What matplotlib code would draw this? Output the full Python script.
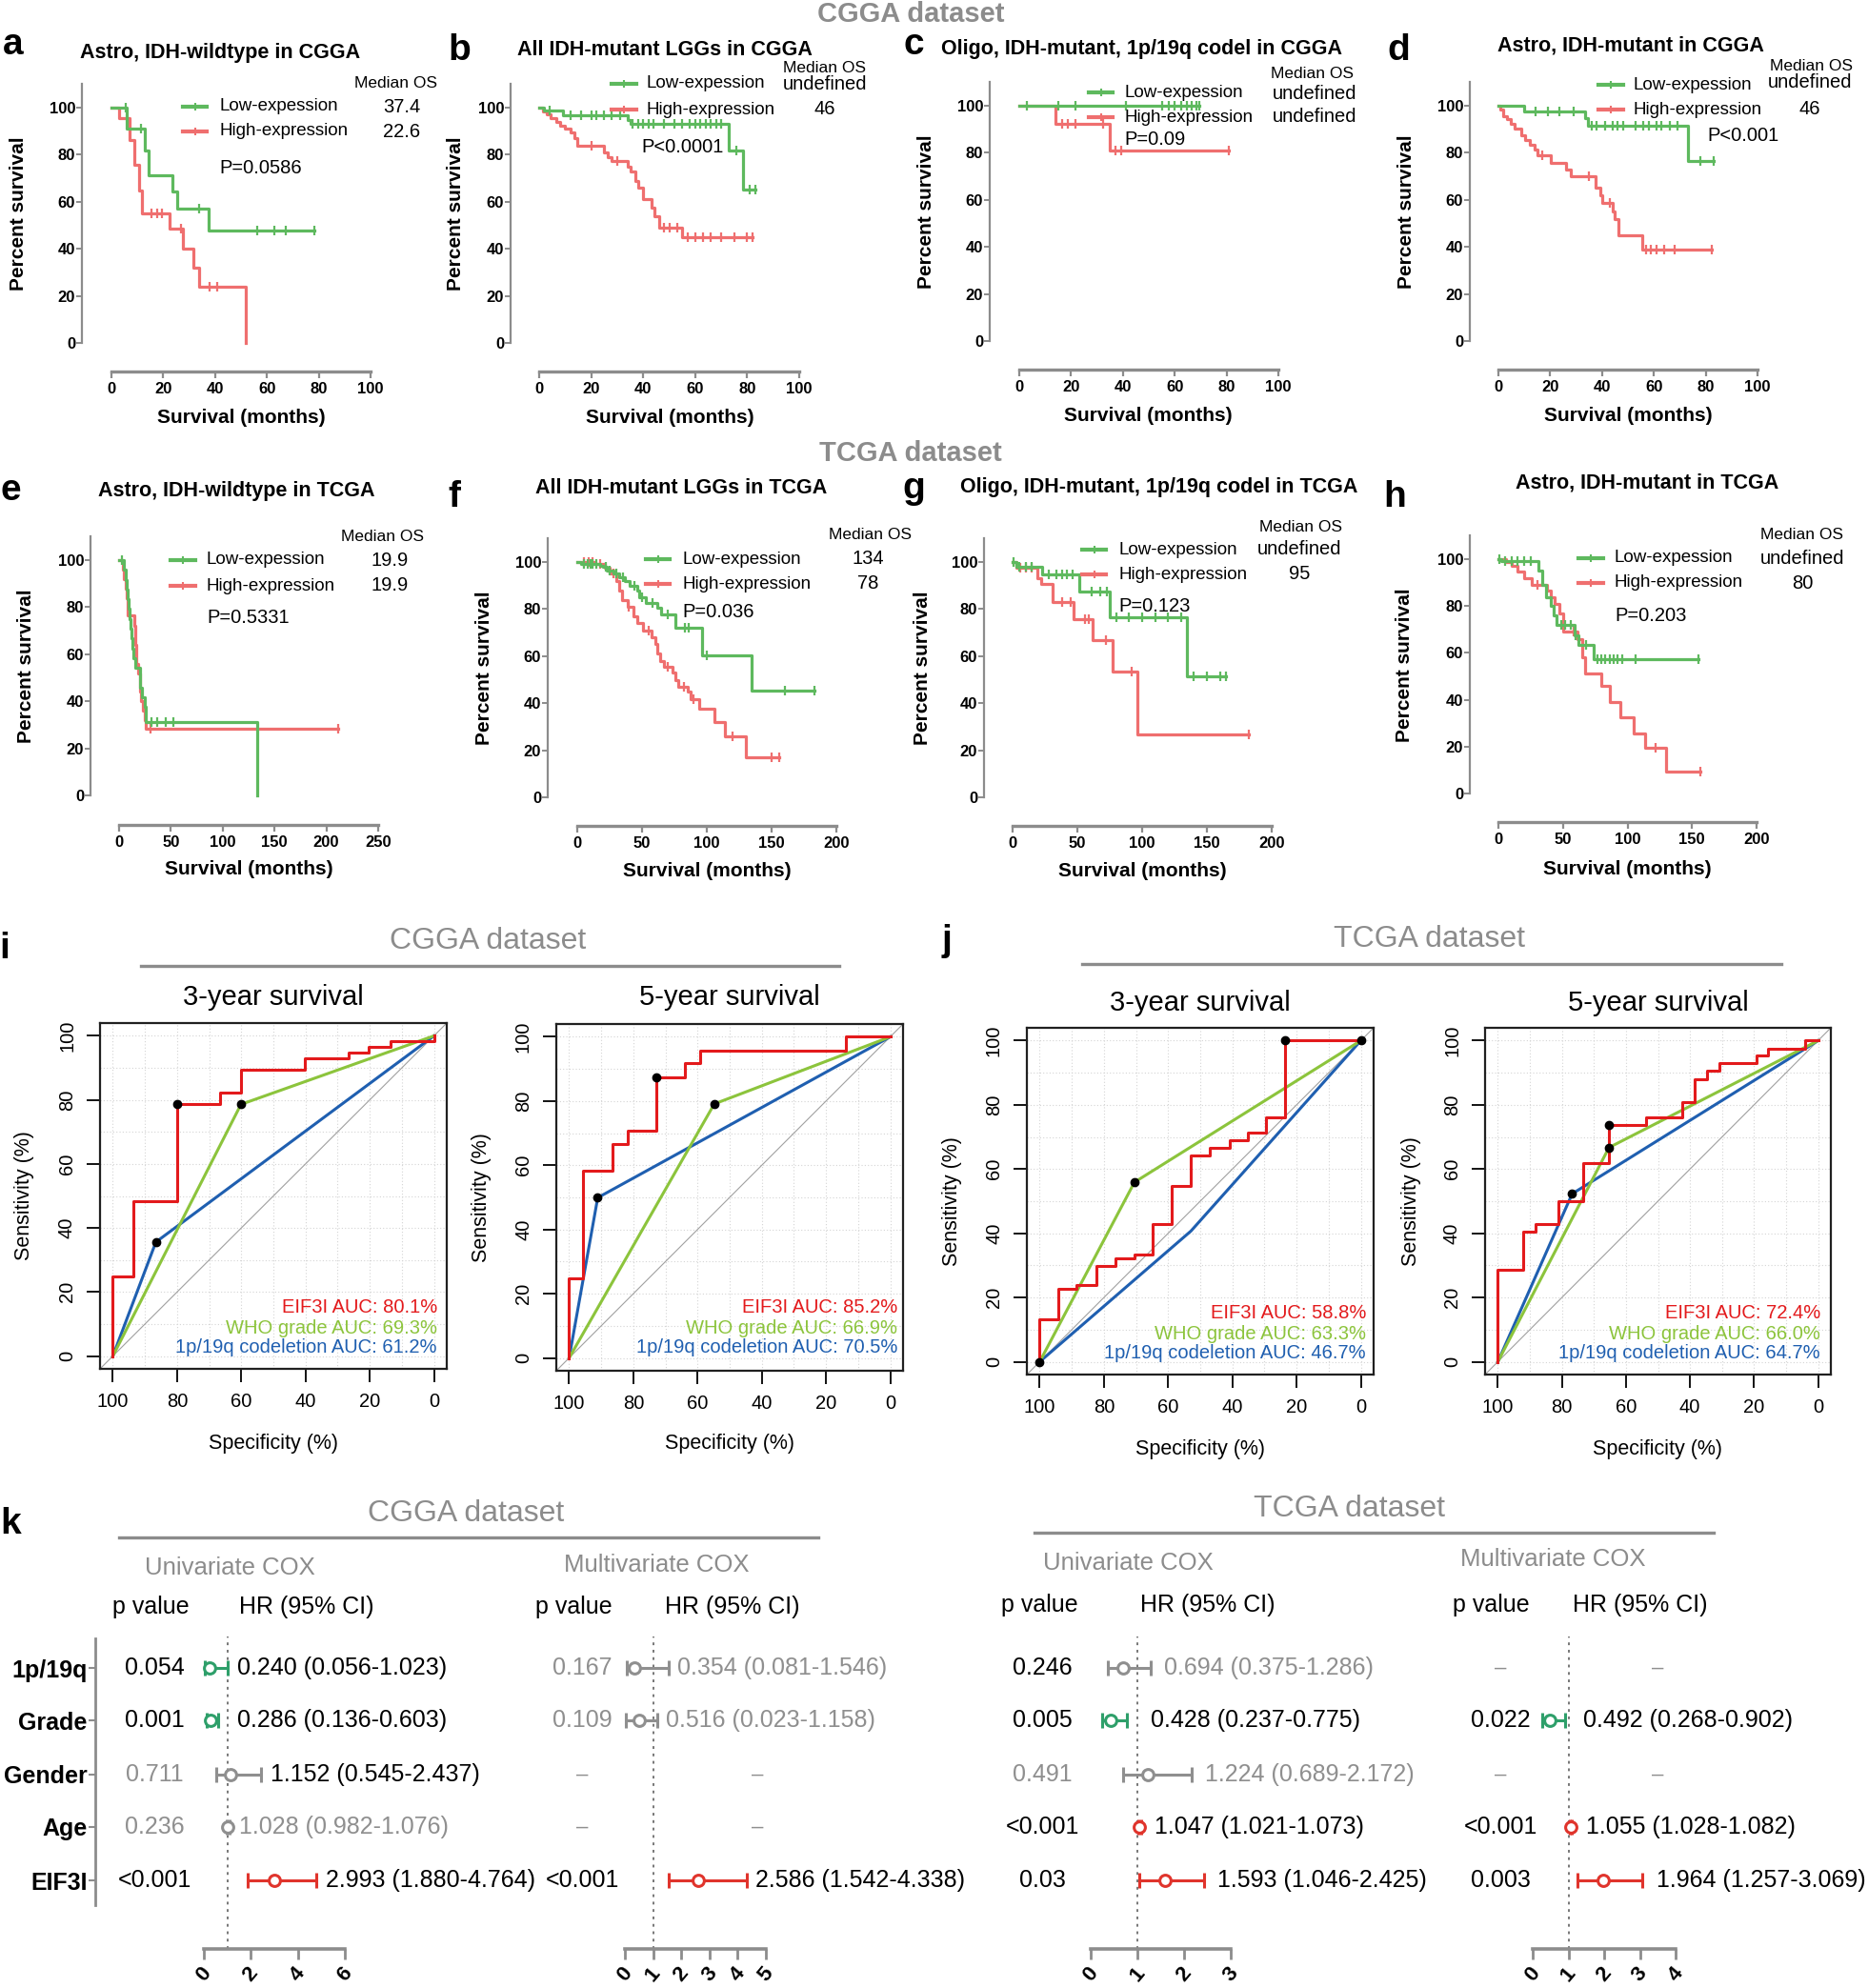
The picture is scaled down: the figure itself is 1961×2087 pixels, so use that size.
import numpy as np
import matplotlib
matplotlib.use('Agg')
import matplotlib.pyplot as plt

plt.rcParams['font.family'] = ['Liberation Sans', 'DejaVu Sans']

W, H = 1961, 2087
PT = 0.72  # points per pixel at dpi 100

# ---------------- Kaplan-Meier data (months, percent) ----------------
a_low_t = [6, 13, 14.5, 23.7, 25.3, 37.5]
a_low_s = [90.9, 81.8, 71.4, 64.3, 57.1, 47.6]
a_low_end = 78.4
a_low_c = [5.5, 11.5, 34, 56.3, 62.8, 67.4, 78.4]
a_high_t = [3, 7, 8.7, 10.6, 11.7, 22.6, 27.6, 31.7, 34, 52]
a_high_s = [95.5, 86.4, 75.7, 64.9, 55.1, 48.4, 40.1, 32, 23.9, 0]
a_high_end = 52
a_high_c = [15.6, 17.5, 19.5, 26.7, 37.9, 40.9]

b_low_t = [2, 9, 34, 35, 73, 78.4]
b_low_s = [98.6, 96.9, 94.6, 93.1, 81.8, 65.1]
b_low_end = 83
b_low_c = [4, 12, 16, 20, 22, 25, 28, 31, 36, 38, 40, 42, 44, 48, 52, 55, 58, 60,
           62, 64, 66, 68, 70, 76, 81, 83]
b_high_t = [1.5, 3, 4.5, 6.5, 8, 10, 12, 13.5, 14.7, 25, 26.5, 28, 34, 35, 37, 38,
            40, 43.4, 44.5, 46, 55]
b_high_s = [98.5, 97, 95.5, 94, 92.5, 91, 89.5, 87, 83.8, 81, 79, 77.5, 75, 73, 69,
            66, 61, 57.5, 54, 48.9, 44.9]
b_high_end = 82
b_high_c = [20, 30, 48, 50, 53, 57, 60, 63, 66, 70, 75, 80, 82]

c_low_t = []
c_low_s = []
c_low_end = 69.4
c_low_c = [3, 15.2, 21.7, 41, 55, 57.8, 60, 62.4, 64.7, 66.4, 68.2, 69.4]
c_high_t = [14, 34.8]
c_high_s = [92.3, 80.8]
c_high_end = 81
c_high_c = [16.4, 18.7, 21.7, 32.5, 37.1, 39.4, 81]

d_low_t = [10, 33.6, 34.7, 73]
d_low_s = [97.6, 94.6, 91.6, 76.4]
d_low_end = 83
d_low_c = [14.5, 19, 23.5, 29, 36, 38, 41, 44, 46, 48, 53, 56, 58, 61, 63, 66, 69, 78, 83]
d_high_t = [0.7, 1.8, 3.4, 4.8, 6.4, 8.7, 10.3, 12.2, 13.8, 15, 20.2, 26, 28, 37.5,
            39.3, 40.2, 44, 45, 46.2, 55.4]
d_high_s = [98.4, 95.7, 94.3, 92.3, 90.3, 87.6, 85.5, 83.5, 81.5, 78.8, 75.9, 73, 69.9,
            65.3, 61.9, 58.6, 55.1, 51.8, 45, 38.9]
d_high_end = 82.3
d_high_c = [17, 35, 43, 57, 59, 61, 64, 68, 82.3]

e_low_t = [5, 6, 7, 8, 9, 10, 11, 12, 13, 14, 16, 19.9, 21.8, 24.7, 25.9, 133]
e_low_s = [95.8, 91.7, 87.5, 83.3, 79.2, 75, 70.8, 66.7, 62.5, 58.3, 54.2, 45.8, 41.7,
           37.5, 31.3, 0]
e_low_end = 133
e_low_c = [3, 31.6, 37, 45, 52]
e_high_t = [4, 5, 6, 7, 8, 15, 16, 17, 18, 19.9, 21, 23, 25, 26]
e_high_s = [96, 92, 88, 84, 76.4, 72, 64, 56, 52, 44, 40, 36, 32, 28.4]
e_high_end = 211
e_high_c = [30, 211]

f_low_t = [3, 18, 20, 23, 27.6, 32, 37, 40.5, 46, 48, 53, 62, 64.4, 76, 96.6, 134.7]
f_low_s = [99, 98.5, 98, 96.5, 95, 93.5, 92, 90, 87.8, 85, 82.5, 80.5, 77.9, 72.2,
           60.2, 45.4]
f_low_end = 183
f_low_c = [5, 8, 10, 12, 15, 22, 25, 30, 35, 44, 50, 58, 70, 83, 86, 100, 160, 183]
f_high_t = [14, 21, 25, 30, 32, 34.5, 39, 43.7, 46, 50.6, 57.5, 60, 62, 64, 66.7, 73.6,
            76, 78, 85, 87.4, 94, 105.7, 114, 130]
f_high_s = [99, 97.5, 95, 92, 88, 84, 81, 77, 74, 70.8, 68, 65, 61, 58, 55.5, 53, 50,
            47, 45, 41.5, 37.5, 32, 25.8, 17]
f_high_end = 156
f_high_c = [5, 9, 12, 18, 28, 40, 55, 70, 82, 90, 120, 150, 156]

g_low_t = [3, 23, 51.6, 74.7, 134.6]
g_low_s = [98, 94.6, 87.4, 76.4, 51.4]
g_low_end = 164.5
g_low_c = [1, 5, 10, 15, 28, 34, 38, 42, 46, 61, 68, 73, 80, 90, 100, 110, 120, 130,
           140, 150, 160, 164.5]
g_high_t = [3, 19.4, 21.7, 31, 47, 62, 77, 96.3]
g_high_s = [97.6, 93.2, 90.5, 82.8, 75.7, 66.9, 53.4, 26.6]
g_high_end = 182
g_high_c = [6, 10, 15, 38, 45, 56, 59, 72, 92, 182]

h_low_t = [2, 31.3, 33.6, 37, 40.5, 43, 45, 59, 62, 74]
h_low_s = [99, 95, 89.2, 83.8, 80, 76, 72, 67.6, 63.5, 57.4]
h_low_end = 155
h_low_c = [1, 5, 10, 15, 20, 25, 49, 52, 56, 60, 68, 77, 80, 83, 86, 89, 92, 96, 106, 155]
h_high_t = [6, 10.6, 15, 19.8, 25.8, 38, 40.5, 43.8, 47.5, 50, 61, 65, 67, 80, 86.6,
            94.5, 105, 114, 130]
h_high_s = [98.6, 97.3, 94.6, 91.9, 89.2, 86.5, 83.8, 81, 77, 69.2, 66, 58.1, 51.4,
            45.9, 39.2, 32.4, 25.7, 19.6, 9.5]
h_high_end = 156.7
h_high_c = [30, 58, 122, 156.7]

# ---------------- ROC data (specificity, sensitivity in %) ----------------
cg3_red_sp = [100, 100, 93.5, 80.1, 66.6, 60.1, 40.1, 26.7, 20.2, 13.4, 0]
cg3_red_se = [0, 25, 48.3, 78.6, 82.3, 89.4, 92.9, 94.7, 96.6, 98.4, 100]
cg3_grn = (60.1, 78.6)
cg3_blu = (86.6, 35.6)
cg3_dots = [(80.1, 78.6), (60.1, 78.6), (86.6, 35.6)]
cg3_auc = ['EIF3I AUC: 80.1%', 'WHO grade AUC: 69.3%', '1p/19q codeletion AUC: 61.2%']

cg5_red_sp = [100, 100, 95.7, 86.4, 81.8, 72.9, 63.8, 59.1, 13.9, 0]
cg5_red_se = [0, 24.9, 58.3, 66.6, 70.8, 87.5, 91.7, 95.8, 100, 100]
cg5_grn = (54.8, 79.1)
cg5_blu = (91.1, 49.9)
cg5_dots = [(72.9, 87.5), (54.8, 79.1), (91.1, 49.9)]
cg5_auc = ['EIF3I AUC: 85.2%', 'WHO grade AUC: 66.9%', '1p/19q codeletion AUC: 70.5%']

tc3_red_sp = [100, 100, 94.1, 88.5, 82.4, 76.4, 70.5, 64.7, 58.8, 52.9, 47.1, 40.8, 35.3,
              29.5, 23.6, 0]
tc3_red_se = [0, 13.1, 22.6, 23.9, 29.8, 32.2, 33.5, 43.0, 54.8, 64.3, 66.7, 69.1, 71.4,
              76.2, 100, 100]
tc3_grn = (70.5, 55.9)
tc3_blu = (52.9, 40.7)
tc3_dots = [(23.6, 100), (70.5, 55.9), (100, 0), (0, 100)]
tc3_auc = ['EIF3I AUC: 58.8%', 'WHO grade AUC: 63.3%', '1p/19q codeletion AUC: 46.7%']

tc5_red_sp = [100, 100, 92.2, 88.3, 81.1, 73.5, 65.3, 53.6, 42.5, 38.4, 34.7, 30.8, 19.3,
              15.6, 4.1, 0]
tc5_red_se = [0, 28.5, 40.4, 43.0, 50.0, 61.9, 73.8, 76.2, 81.0, 88.1, 90.6, 92.9, 95.3,
              97.6, 100, 100]
tc5_grn = (65.3, 66.7)
tc5_blu = (76.8, 52.3)
tc5_dots = [(65.3, 73.8), (65.3, 66.7), (76.8, 52.3)]
tc5_auc = ['EIF3I AUC: 72.4%', 'WHO grade AUC: 66.0%', '1p/19q codeletion AUC: 64.7%']

# ---------------- Cox forest data ----------------
cox_rows = ['1p/19q', 'Grade', 'Gender', 'Age', 'EIF3I']

cg_uni_hr = [0.240, 0.286, 1.152, 1.028, 2.993]
cg_uni_lo = [0.056, 0.136, 0.545, 0.982, 1.880]
cg_uni_hi = [1.023, 0.603, 2.437, 1.076, 4.764]
cg_uni_p = ['0.054', '0.001', '0.711', '0.236', '<0.001']

cg_mul_hr = [0.354, 0.516, None, None, 2.586]
cg_mul_lo = [0.081, 0.023, None, None, 1.542]
cg_mul_hi = [1.546, 1.158, None, None, 4.338]
cg_mul_p = ['0.167', '0.109', None, None, '<0.001']

tc_uni_hr = [0.694, 0.428, 1.224, 1.047, 1.593]
tc_uni_lo = [0.375, 0.237, 0.689, 1.021, 1.046]
tc_uni_hi = [1.286, 0.775, 2.172, 1.073, 2.425]
tc_uni_p = ['0.246', '0.005', '0.491', '<0.001', '0.03']

tc_mul_hr = [None, 0.492, None, 1.055, 1.964]
tc_mul_lo = [None, 0.268, None, 1.028, 1.257]
tc_mul_hi = [None, 0.902, None, 1.082, 3.069]
tc_mul_p = [None, '0.022', None, '<0.001', '0.003']

# ---------------- colours ----------------
KM_G = '#5eb95e'
KM_R = '#ef6f6f'
AXG = '#8c8c8c'
ROC_R = '#e31a1c'
ROC_G = '#8cc43c'
ROC_B = '#1f5fb0'
F_G = '#2e9f6a'
F_R = '#e0342c'
F_GR = '#8f8f8f'

fig = plt.figure(figsize=(W / 100, H / 100), dpi=100)


def box(x0, y0, x1, y1):
    return fig.add_axes([x0 / W, 1 - y1 / H, (x1 - x0) / W, (y1 - y0) / H])


ov = fig.add_axes([0, 0, 1, 1], zorder=10)
ov.set_xlim(0, W)
ov.set_ylim(H, 0)
ov.axis('off')


def put(x, y, s, size=14, **kw):
    kw.setdefault('ha', 'center')
    kw.setdefault('va', 'center')
    ov.text(x, y, s, fontsize=size, **kw)


def step_xy(t, s, end):
    x = np.r_[0, t, end]
    y = np.r_[100, s, s[-1] if len(s) else 100]
    return x, y


def level_at(t, s, when):
    idx = np.searchsorted(np.asarray(t, float), when, side='right')
    return np.r_[100, s][idx]


# ---------------- KM panels ----------------
km = [
    dict(L='a', title='Astro, IDH-wildtype in CGGA', xmax=100, xt=20,
         low=(a_low_t, a_low_s, a_low_end, a_low_c), high=(a_high_t, a_high_s, a_high_end, a_high_c),
         med=('37.4', '22.6'), p='P=0.0586',
         x0=117, x1=389, y0=360, y100=113, sx=86, xl=390, Lxy=(3, 57), txy=(231, 55),
         mxy=(415, 87), lx=(192, 217), tx=230, ly=(112, 138), nx=422, ny=(112, 138),
         pxy=(230, 176), ylx=20, xlxy=(253, 438)),
    dict(L='b', title='All IDH-mutant LGGs in CGGA', xmax=100, xt=20,
         low=(b_low_t, b_low_s, b_low_end, b_low_c), high=(b_high_t, b_high_s, b_high_end, b_high_c),
         med=('undefined', '46'), p='P<0.0001',
         x0=566, x1=839, y0=360, y100=113, sx=536, xl=390, Lxy=(470, 63), txy=(698, 53),
         mxy=(865, 71), lx=(642, 668), tx=679, ly=(88, 115), nx=866, ny=(88, 115),
         pxy=(673, 154), ylx=478, xlxy=(703, 438)),
    dict(L='c', title='Oligo, IDH-mutant, 1p/19q codel in CGGA', xmax=100, xt=20,
         low=(c_low_t, c_low_s, c_low_end, c_low_c), high=(c_high_t, c_high_s, c_high_end, c_high_c),
         med=('undefined', 'undefined'), p='P=0.09',
         x0=1070, x1=1342, y0=358, y100=111, sx=1039, xl=388, Lxy=(948, 57), txy=(1199, 52),
         mxy=(1378, 78), lx=(1143, 1168), tx=1180, ly=(97, 123), nx=1380, ny=(98, 122),
         pxy=(1180, 146), ylx=972, xlxy=(1205, 437)),
    dict(L='d', title='Astro, IDH-mutant in CGGA', xmax=100, xt=20,
         low=(d_low_t, d_low_s, d_low_end, d_low_c), high=(d_high_t, d_high_s, d_high_end, d_high_c),
         med=('undefined', '46'), p='P<0.001',
         x0=1573, x1=1845, y0=358, y100=111, sx=1543, xl=388, Lxy=(1456, 63), txy=(1712, 48),
         mxy=(1901, 70), lx=(1678, 1704), tx=1715, ly=(89, 115), nx=1900, ny=(87, 115),
         pxy=(1792, 143), ylx=1476, xlxy=(1709, 437)),
    dict(L='e', title='Astro, IDH-wildtype in TCGA', xmax=250, xt=50,
         low=(e_low_t, e_low_s, e_low_end, e_low_c), high=(e_high_t, e_high_s, e_high_end, e_high_c),
         med=('19.9', '19.9'), p='P=0.5331',
         x0=125, x1=397, y0=835, y100=588, sx=95, xl=866, Lxy=(0, 525), txy=(248, 515),
         mxy=(402, 563), lx=(179, 205), tx=217, ly=(588, 615), nx=409, ny=(588, 615),
         pxy=(217, 648), ylx=28, xlxy=(261, 913)),
    dict(L='f', title='All IDH-mutant LGGs in TCGA', xmax=200, xt=50,
         low=(f_low_t, f_low_s, f_low_end, f_low_c), high=(f_high_t, f_high_s, f_high_end, f_high_c),
         med=('134', '78'), p='P=0.036',
         x0=606, x1=878, y0=837, y100=590, sx=575, xl=867, Lxy=(470, 532), txy=(715, 513),
         mxy=(913, 561), lx=(678, 703), tx=716, ly=(587, 613), nx=911, ny=(587, 613),
         pxy=(716, 643), ylx=509, xlxy=(742, 915)),
    dict(L='g', title='Oligo, IDH-mutant, 1p/19q codel in TCGA', xmax=200, xt=50,
         low=(g_low_t, g_low_s, g_low_end, g_low_c), high=(g_high_t, g_high_s, g_high_end, g_high_c),
         med=('undefined', '95'), p='P=0.123',
         x0=1063, x1=1335, y0=837, y100=590, sx=1033, xl=867, Lxy=(947, 523), txy=(1217, 511),
         mxy=(1365, 553), lx=(1136, 1161), tx=1174, ly=(577, 603), nx=1364, ny=(576, 603),
         pxy=(1174, 637), ylx=969, xlxy=(1199, 915)),
    dict(L='h', title='Astro, IDH-mutant in TCGA', xmax=200, xt=50,
         low=(h_low_t, h_low_s, h_low_end, h_low_c), high=(h_high_t, h_high_s, h_high_end, h_high_c),
         med=('undefined', '80'), p='P=0.203',
         x0=1573, x1=1844, y0=833, y100=587, sx=1543, xl=863, Lxy=(1452, 532), txy=(1729, 507),
         mxy=(1892, 561), lx=(1657, 1683), tx=1695, ly=(586, 612), nx=1892, ny=(587, 612),
         pxy=(1695, 646), ylx=1474, xlxy=(1708, 912)),
]

for k in km:
    ytop = k['y0'] - (k['y0'] - k['y100']) * 1.1
    ax = box(k['x0'], ytop, k['x1'], k['y0'])
    ax.set_xlim(0, k['xmax'])
    ax.set_ylim(0, 110)
    ax.patch.set_alpha(0)
    for sd in ('top', 'right'):
        ax.spines[sd].set_visible(False)
    ax.spines['left'].set_position(('outward', (k['x0'] - k['sx']) * PT))
    ax.spines['bottom'].set_position(('outward', (k['xl'] - k['y0']) * PT))
    ax.spines['left'].set_bounds(0, 110)
    ax.spines['bottom'].set_bounds(0, k['xmax'])
    ax.spines['left'].set_color(AXG)
    ax.spines['bottom'].set_color(AXG)
    ax.spines['left'].set_linewidth(1.6)
    ax.spines['bottom'].set_linewidth(2.4)
    ax.set_yticks(range(0, 101, 20), labels=[str(v) for v in range(0, 101, 20)],
                  fontsize=12, fontweight='bold')
    xt = list(range(0, k['xmax'] + 1, k['xt']))
    ax.set_xticks(xt, labels=[str(v) for v in xt], fontsize=12, fontweight='bold')
    ax.tick_params(axis='y', length=4, width=1.4, color=AXG, pad=1)
    ax.tick_params(axis='x', length=5, width=1.6, color=AXG, pad=3)
    for data, col in ((k['high'], KM_R), (k['low'], KM_G)):
        t, s, end, cens = data
        x, y = step_xy(t, s, end)
        ax.plot(x, y, drawstyle='steps-post', color=col, lw=2.3, clip_on=False)
        ax.plot(cens, level_at(t, s, cens), ls='none', marker='|', ms=7, mew=1.6,
                color=col, clip_on=False)
    put(k['Lxy'][0], k['Lxy'][1], k['L'], size=28, fontweight='bold', ha='left', va='baseline')
    put(*k['txy'], k['title'], size=15.5, fontweight='bold')
    put(*k['mxy'], 'Median OS', size=12.5)
    for yy, col, lab, num, ny in zip(k['ly'], (KM_G, KM_R), ('Low-expession', 'High-expression'),
                                     k['med'], k['ny']):
        ov.plot(k['lx'], [yy, yy], color=col, lw=3)
        ov.plot([(k['lx'][0] + k['lx'][1]) / 2], [yy], marker='|', ms=6, mew=1.5, color=col)
        put(k['tx'], yy, lab, size=13.5, ha='left')
        put(k['nx'], ny, num, size=14.5)
    put(k['pxy'][0], k['pxy'][1], k['p'], size=14.5, ha='left')
    put(k['ylx'], (k['y0'] + ytop) / 2, 'Percent survival', size=15, fontweight='bold',
        rotation=90)
    put(*k['xlxy'], 'Survival (months)', size=15, fontweight='bold')

put(956, 15, 'CGGA dataset', size=21, fontweight='bold', color=AXG)
put(956, 476, 'TCGA dataset', size=21, fontweight='bold', color=AXG)

# ---------------- ROC panels ----------------
roc = [
    dict(sp=cg3_red_sp, se=cg3_red_se, g=cg3_grn, b=cg3_blu, dots=cg3_dots, auc=cg3_auc,
         bx=(105, 1074, 469, 1437), title='3-year survival', ty=1047, ylx=26, xly=1516,
         aucx=459, aucy=(1372, 1394, 1414)),
    dict(sp=cg5_red_sp, se=cg5_red_se, g=cg5_grn, b=cg5_blu, dots=cg5_dots, auc=cg5_auc,
         bx=(584, 1075, 948, 1439), title='5-year survival', ty=1047, ylx=506, xly=1516,
         aucx=942, aucy=(1372, 1394, 1414)),
    dict(sp=tc3_red_sp, se=tc3_red_se, g=tc3_grn, b=tc3_blu, dots=tc3_dots, auc=tc3_auc,
         bx=(1078, 1079, 1442, 1443), title='3-year survival', ty=1053, ylx=999, xly=1521,
         aucx=1434, aucy=(1379, 1401, 1421)),
    dict(sp=tc5_red_sp, se=tc5_red_se, g=tc5_grn, b=tc5_blu, dots=tc5_dots, auc=tc5_auc,
         bx=(1559, 1079, 1922, 1443), title='5-year survival', ty=1053, ylx=1481, xly=1521,
         aucx=1911, aucy=(1379, 1401, 1421)),
]

for r in roc:
    x0, y0, x1, y1 = r['bx']
    ax = box(x0, y0, x1, y1)
    ax.set_xlim(104, -4)
    ax.set_ylim(-4, 104)
    for v in range(0, 101, 10):
        ax.axhline(v, color='#d4d4d4', lw=0.8, ls=(0, (1, 2)), zorder=0)
        ax.axvline(v, color='#d4d4d4', lw=0.8, ls=(0, (1, 2)), zorder=0)
    ax.axline((100, 0), (0, 100), color='#a0a0a0', lw=0.8)
    ax.plot([100, r['b'][0], 0], [0, r['b'][1], 100], color=ROC_B, lw=2.2)
    ax.plot([100, r['g'][0], 0], [0, r['g'][1], 100], color=ROC_G, lw=2.2)
    ax.plot(r['sp'], r['se'], drawstyle='steps-post', color=ROC_R, lw=2.2)
    ax.plot([p[0] for p in r['dots']], [p[1] for p in r['dots']], 'o', color='black', ms=6,
            clip_on=False, zorder=5)
    for s in ax.spines.values():
        s.set_linewidth(1.6)
        s.set_color('#202020')
    ticks = [100, 80, 60, 40, 20, 0]
    ax.set_xticks(ticks, labels=[str(t) for t in ticks], fontsize=14.5)
    ax.set_yticks(ticks, labels=[str(t) for t in ticks], fontsize=14.5, rotation=90, va='center')
    ax.tick_params(axis='both', length=10, width=1.3, pad=8)
    for txt, col, yy in zip(r['auc'], (ROC_R, ROC_G, ROC_B), r['aucy']):
        put(r['aucx'], yy, txt, size=14.5, color=col, ha='right')
    put((x0 + x1) / 2, r['ty'], r['title'], size=21)
    put(r['ylx'], (y0 + y1) / 2, 'Sensitivity (%)', size=15.5, rotation=90)
    put((x0 + x1) / 2, r['xly'], 'Specificity (%)', size=15.5)

put(5, 1006, 'i', size=28, fontweight='bold', ha='center', va='baseline')
put(994, 998, 'j', size=28, fontweight='bold', ha='center', va='baseline')
put(512, 988, 'CGGA dataset', size=23, color=AXG)
put(1500, 986, 'TCGA dataset', size=23, color=AXG)
ov.plot([148, 881], [1014, 1014], color=AXG, lw=2.4)
ov.plot([1136, 1870], [1012, 1012], color=AXG, lw=2.4)

# ---------------- Cox forests ----------------
ROWS_Y = [1751, 1806, 1863, 1918, 1974]


def color_of(hr, p):
    if hr is None:
        return None
    sig = p.startswith('<') or float(p) <= 0.055
    if not sig:
        return F_GR
    return F_G if hr < 1 else F_R


forests = [
    dict(hr=cg_uni_hr, lo=cg_uni_lo, hi=cg_uni_hi, p=cg_uni_p, x0=214, x1=362, hmax=6,
         ticks=[0, 2, 4, 6], px=162, dashx=None, off=10, labels=True,
         pcol=['k', 'k', F_GR, F_GR, 'k'], hcol=['k', 'k', 'k', F_GR, 'k']),
    dict(hr=cg_mul_hr, lo=cg_mul_lo, hi=cg_mul_hi, p=cg_mul_p, x0=656, x1=804, hmax=5,
         ticks=[0, 1, 2, 3, 4, 5], px=611, dashx=795, off=9, labels=False,
         pcol=[F_GR, F_GR, 'k', 'k', 'k'], hcol=[F_GR, F_GR, 'k', 'k', 'k']),
    dict(hr=tc_uni_hr, lo=tc_uni_lo, hi=tc_uni_hi, p=tc_uni_p, x0=1145, x1=1292, hmax=3,
         ticks=[0, 1, 2, 3], px=1094, dashx=None, off=14, labels=False,
         pcol=['k', 'k', F_GR, 'k', 'k'], hcol=[F_GR, 'k', F_GR, 'k', 'k']),
    dict(hr=tc_mul_hr, lo=tc_mul_lo, hi=tc_mul_hi, p=tc_mul_p, x0=1609, x1=1759, hmax=4,
         ticks=[0, 1, 2, 3, 4], px=1575, dashx=1740, off=15, labels=False,
         pcol=['k'] * 5, hcol=['k'] * 5),
]
FTOP, FBOT = 1718, 2046

for f in forests:
    ax = box(f['x0'], FTOP, f['x1'], FBOT)
    ax.set_xlim(0, f['hmax'])
    ax.set_ylim(FBOT, FTOP)
    ax.patch.set_alpha(0)
    for sd in ('top', 'right', 'left'):
        ax.spines[sd].set_visible(False)
    ax.spines['bottom'].set_color(AXG)
    ax.spines['bottom'].set_linewidth(2.6)
    ax.set_xticks(f['ticks'], labels=[str(t) for t in f['ticks']], fontsize=16,
                  fontweight='bold', rotation=50, ha='center')
    ax.tick_params(axis='x', length=8, width=2, color=AXG, pad=3)
    ax.axvline(1, color='#777777', lw=1.4, ls=(0, (1.5, 2.5)))
    if f['labels']:
        ax.spines['left'].set_visible(True)
        ax.spines['left'].set_position(('outward', (f['x0'] - 100) * PT))
        ax.spines['left'].set_bounds(1720, 2000)
        ax.spines['left'].set_color(AXG)
        ax.spines['left'].set_linewidth(2)
        ax.set_yticks(ROWS_Y, labels=cox_rows, fontsize=18, fontweight='bold')
        ax.tick_params(axis='y', length=5, width=1.5, color=AXG, pad=1)
    else:
        ax.set_yticks([])
    for i, yy in enumerate(ROWS_Y):
        hr, lo, hi, p = f['hr'][i], f['lo'][i], f['hi'][i], f['p'][i]
        if hr is None:
            put(f['px'], yy, '–', size=16, color=F_GR)
            put(f['dashx'], yy, '–', size=16, color=F_GR)
            continue
        c = color_of(hr, p)
        ax.errorbar([hr], [yy], xerr=[[hr - lo], [hi - hr]], fmt='o', color=c, mfc='white',
                    mec=c, ms=8.5, mew=2.2, elinewidth=2.2, capsize=6, capthick=2.2,
                    clip_on=False)
        ax.annotate('%.3f (%.3f-%.3f)' % (hr, lo, hi), xy=(max(hi, 1), yy),
                    xytext=(f['off'] * PT, 0), textcoords='offset points', ha='left',
                    va='center', fontsize=18, color=f['hcol'][i], annotation_clip=False)
        put(f['px'], yy, p, size=18, color=f['pcol'][i])

put(0, 1610, 'k', size=28, fontweight='bold', ha='left', va='baseline')
put(489, 1589, 'CGGA dataset', size=23, color=AXG)
put(1417, 1584, 'TCGA dataset', size=23, color=AXG)
ov.plot([125, 859], [1614, 1614], color=AXG, lw=2.4)
ov.plot([1086, 1799], [1609, 1609], color=AXG, lw=2.4)
put(241, 1646, 'Univariate COX', size=18.5, color=AXG)
put(689, 1643, 'Multivariate COX', size=18.5, color=AXG)
put(1184, 1641, 'Univariate COX', size=18.5, color=AXG)
put(1630, 1637, 'Multivariate COX', size=18.5, color=AXG)
for xp, xh, yy in ((158, 322, 1687), (602, 769, 1687), (1091, 1268, 1685), (1565, 1722, 1685)):
    put(xp, yy, 'p value', size=18)
    put(xh, yy, 'HR (95% CI)', size=18)

fig.savefig('out.png', dpi=100)
